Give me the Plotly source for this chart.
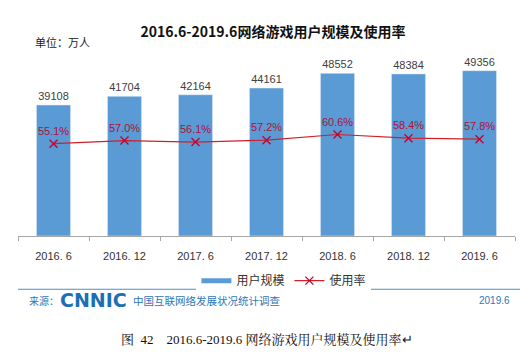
import plotly.graph_objects as go

categories = ["2016. 6", "2016. 12", "2017. 6", "2017. 12", "2018. 6", "2018. 12", "2019. 6"]
users = [39108, 41704, 42164, 44161, 48552, 48384, 49356]
rate = [0.551, 0.570, 0.561, 0.572, 0.606, 0.584, 0.578]

font_cn = "Noto Sans CJK SC, Liberation Sans, sans-serif"
font_num = "Liberation Sans, Noto Sans CJK SC, sans-serif"

fig = go.Figure()
fig.add_trace(go.Bar(
    x=categories, y=users, name="用户规模", showlegend=False, legendgroup="u",
    marker=dict(color="#5B9BD5"), width=0.48,
    text=[str(v) for v in users], textposition="outside",
    textfont=dict(family=font_num, size=11, color="#404040"),
    cliponaxis=False,
))
# legend proxy (line-style legend key as in the original)
fig.add_trace(go.Scatter(
    x=[None], y=[None], name="用户规模", mode="lines", legendgroup="u",
    line=dict(color="#5B9BD5", width=5),
))
fig.add_trace(go.Scatter(
    x=categories, y=rate, name="使用率", yaxis="y2",
    mode="lines+markers+text",
    line=dict(color="#D0202A", width=1.2),
    marker=dict(symbol="x-thin", size=8, line=dict(color="#C00030", width=1.3), color="#C00030"),
    text=[f"{v*100:.1f}%" for v in rate], textposition="top center",
    textfont=dict(family=font_num, size=11, color="#B0103A"),
    cliponaxis=False,
))

fig.update_layout(
    width=530, height=359, autosize=False,
    margin=dict(l=18, r=15, t=35, b=123),
    paper_bgcolor="white", plot_bgcolor="white",
    showlegend=True,
    legend=dict(orientation="h", x=0.535, xanchor="center", y=-0.15, yanchor="top",
                font=dict(family=font_cn, size=12, color="#333333"),
                itemwidth=30, tracegroupgap=0),
    xaxis=dict(type="category", showline=True, linecolor="#A6A6A6", linewidth=1,
               ticks="outside", tickson="boundaries", ticklen=4, tickcolor="#A6A6A6",
               ticklabelstandoff=10,
               tickfont=dict(family=font_num, size=11, color="#333333"),
               showgrid=False, zeroline=False),
    yaxis=dict(range=[0, 60000], visible=False, showgrid=False, zeroline=False),
    yaxis2=dict(range=[0, 1.2], overlaying="y", visible=False, showgrid=False, zeroline=False),
    title=dict(text="<b>2016.6-2019.6网络游戏用户规模及使用率</b>",
               x=0.515, xanchor="center", y=0.91, yanchor="middle",
               font=dict(family=font_cn, size=14, color="#111111")),
)

fig.add_annotation(text="单位：万人", xref="paper", yref="paper", x=0.0, y=0.965,
                   xanchor="left", yanchor="middle", xshift=15, showarrow=False,
                   font=dict(family=font_cn, size=11, color="#222222"))

# separator line
fig.add_shape(type="line", xref="paper", yref="paper", x0=0, x1=1.01, y0=-0.265, y1=-0.265,
              line=dict(color="#4A90C8", width=1))

fig.add_annotation(text="来源：", xref="paper", yref="paper", x=0, y=-0.32, xshift=9,
                   xanchor="left", yanchor="middle", showarrow=False,
                   font=dict(family=font_cn, size=10, color="#2E75B6"))
fig.add_annotation(text="<b>CNNIC</b>", xref="paper", yref="paper", x=0, y=-0.32, xshift=40,
                   xanchor="left", yanchor="middle", showarrow=False,
                   font=dict(family="DejaVu Sans, sans-serif", size=19, color="#1B6FB5"))
fig.add_annotation(text="中国互联网络发展状况统计调查", xref="paper", yref="paper", x=0, y=-0.32, xshift=113,
                   xanchor="left", yanchor="middle", showarrow=False,
                   font=dict(family=font_cn, size=10.5, color="#2E75B6"))
fig.add_annotation(text="2019.6", xref="paper", yref="paper", x=1, y=-0.32, xshift=-3,
                   xanchor="right", yanchor="middle", showarrow=False,
                   font=dict(family=font_num, size=10, color="#2E75B6"))

fig.add_annotation(text="图  42    2016.6-2019.6 网络游戏用户规模及使用率↵", xref="paper", yref="paper",
                   x=0.5, y=-0.515, xanchor="center", yanchor="middle", showarrow=False,
                   font=dict(family="Liberation Serif, Noto Serif CJK SC, Noto Sans CJK SC, serif", size=13, color="#111111"))

fig.write_html("out.html", config={"displayModeBar": False},
               post_script="document.body.style.margin='0';")
